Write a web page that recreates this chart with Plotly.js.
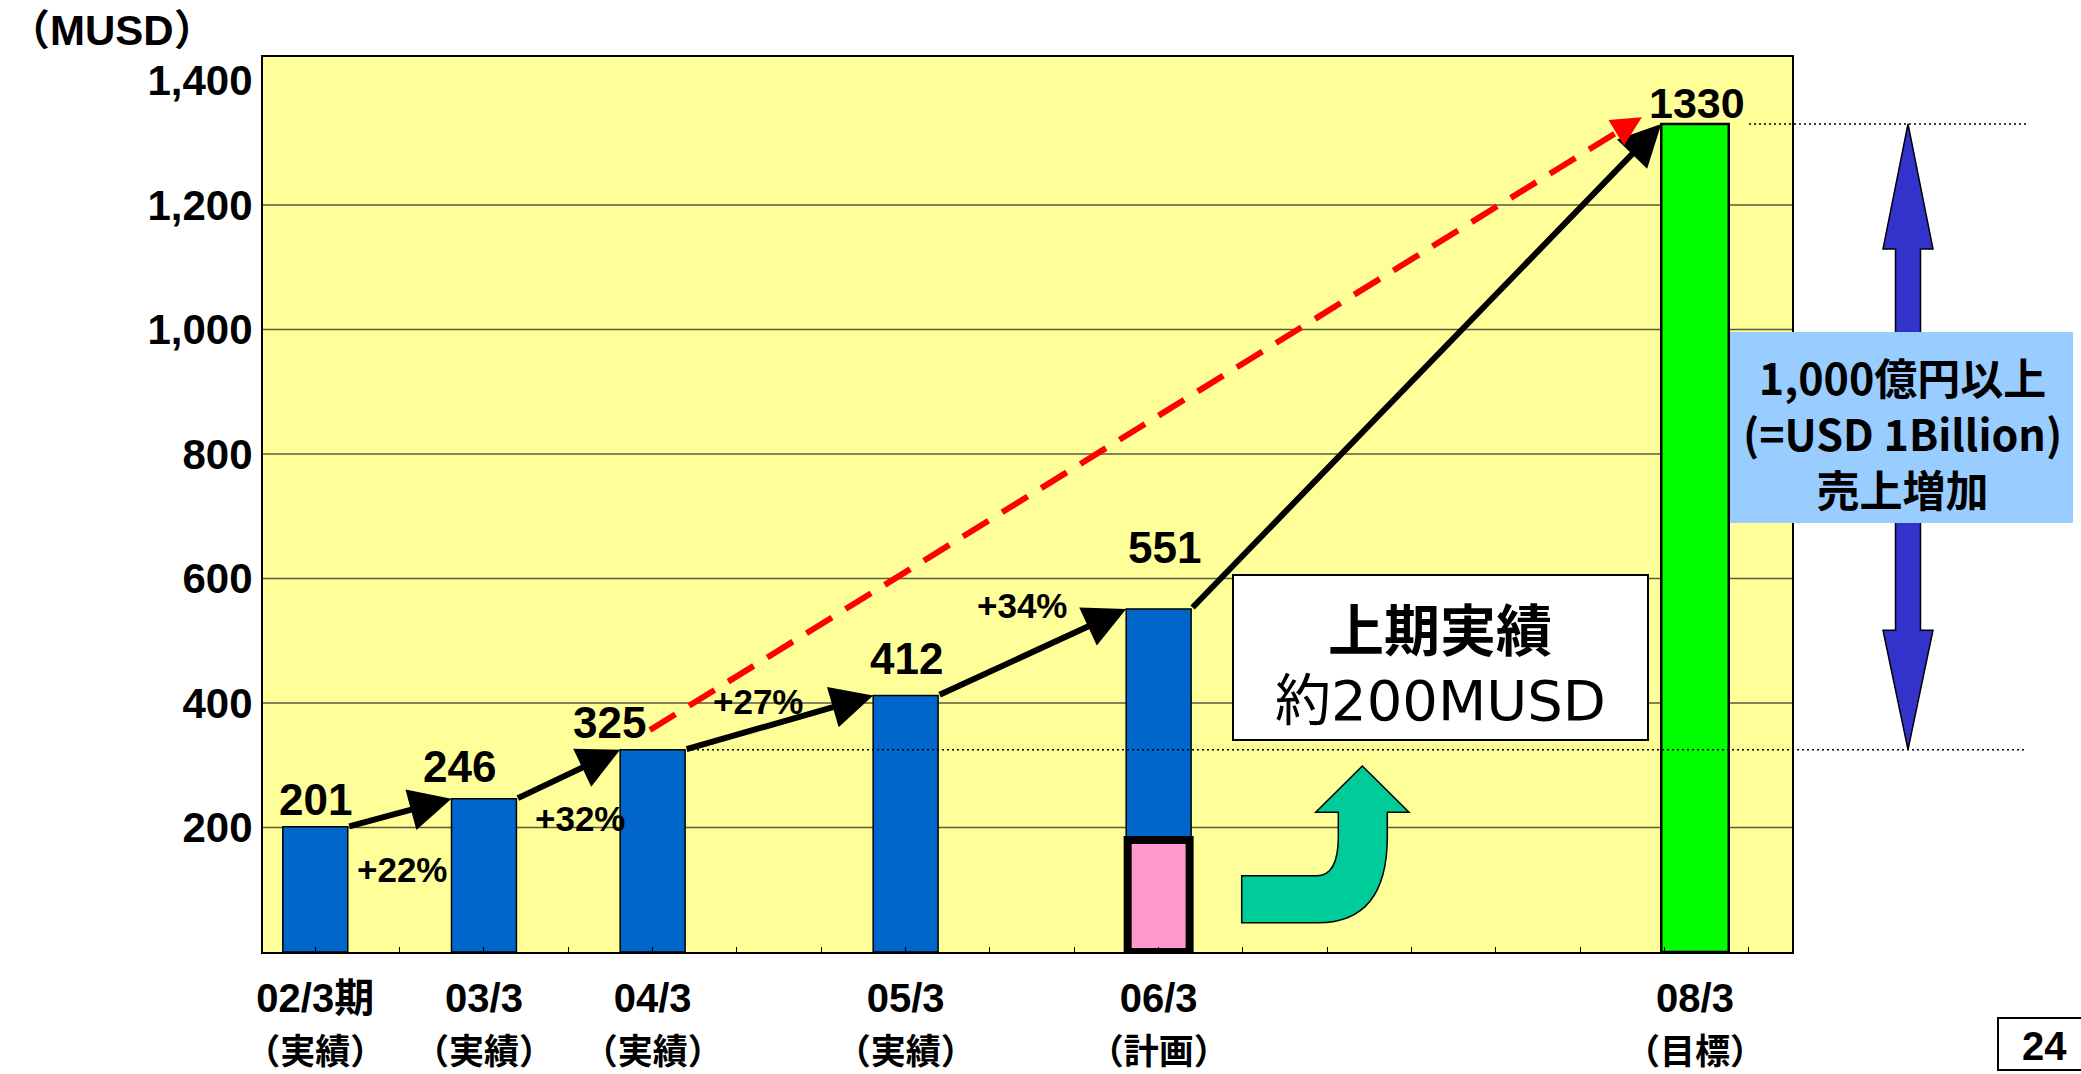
<!DOCTYPE html>
<html><head><meta charset="utf-8">
<script src="https://cdn.plot.ly/plotly-3.0.1.min.js"></script>
<style>html,body{margin:0;padding:0;background:#fff;overflow:hidden}#chart{width:2081px;height:1074px}</style>
</head><body><div id="chart"></div>
<script>
// ---------- data ----------
const periods  = ['02/3期', '03/3', '04/3', '05/3', '06/3', '08/3'];
const phase    = ['（実績）', '（実績）', '（実績）', '（実績）', '（計画）', '（目標）'];
const sales    = [201, 246, 325, 412, 551, 1330];          // MUSD
const axisPos  = [0, 2, 4, 7, 10, 16.36];                  // position of each period on the time axis
const firstHalf = [180];                                   // 06/3 上期実績 (約200MUSD)
const growth   = ['+22%', '+32%', '+27%', '+34%'];
const yTicks   = [200, 400, 600, 800, 1000, 1200, 1400];
const gridVals = [200, 400, 600, 800, 1000, 1200];

// ---------- layout geometry ----------
const W = 2081, H = 1074;
const M = {l: 263, r: 289, t: 57, b: 122};
const PW = W - M.l - M.r, PH = H - M.t - M.b;
const px = x => (x - M.l) / PW;          // pixel -> paper x
const py = y => (H - M.b - y) / PH;      // pixel -> paper y
const P = (x, y) => px(x).toFixed(5) + ',' + py(y).toFixed(5);

const SANS = "'Liberation Sans',Arial,'Noto Sans CJK JP',sans-serif";
const CJK = "'Noto Sans CJK JP','Noto Sans CJK SC',sans-serif";

const barW = [0.77, 0.77, 0.77, 0.77, 0.77, 0.8];
const hw = barW.map(w => w / 2);

const traces = [
  {
    type: 'bar', x: axisPos, y: sales, width: barW,
    marker: {color: ['#0066CC', '#0066CC', '#0066CC', '#0066CC', '#0066CC', '#00FF00'],
             line: {color: '#000', width: [1.5, 1.5, 1.5, 1.5, 1.5, 2.5]}},
    hoverinfo: 'skip'
  },
  {
    type: 'bar', x: [axisPos[4]], y: firstHalf, width: 0.735,
    marker: {color: '#FF99CC', line: {color: '#000', width: 8}},
    hoverinfo: 'skip'
  }
];

// ---------- annotations ----------
const ann = [];
const labelShift = [[0, 27], [-24, 32], [-43, 27], [1, 37], [6, 61], [2, 21]];
sales.forEach((v, i) => {
  ann.push({
    xref: 'x', yref: 'y', x: axisPos[i], y: v, text: String(v), showarrow: false,
    xanchor: 'center', yanchor: 'middle', xshift: labelShift[i][0], yshift: labelShift[i][1],
    font: {family: SANS, size: i === 5 ? 43 : 44, color: '#000', weight: 'bold'}
  });
});
// growth labels
const growthAt = [[1.03, 132], [3.15, 215], [5.25, 402], [8.38, 556]];
growth.forEach((g, i) => {
  ann.push({xref: 'x', yref: 'y', x: growthAt[i][0], y: growthAt[i][1], text: g, showarrow: false,
            xanchor: 'center', yanchor: 'middle',
            font: {family: SANS, size: 35, color: '#000', weight: 'bold'}});
});
// black growth arrows between bar tops
for (let i = 0; i < sales.length - 1; i++) {
  ann.push({
    xref: 'x', yref: 'y', axref: 'x', ayref: 'y',
    x: axisPos[i + 1] - hw[i + 1], y: sales[i + 1],
    ax: axisPos[i] + hw[i], ay: sales[i],
    text: '', showarrow: true, arrowhead: 2, arrowsize: 1.4, arrowwidth: 6,
    arrowcolor: '#000', standoff: 0
  });
}
// red dashed arrow head
ann.push({xref: 'x', yref: 'y', axref: 'x', ayref: 'y', x: 15.73, y: 1341, ax: 15.45, ay: 1318,
          text: '', showarrow: true, arrowhead: 2, arrowsize: 1.0, arrowwidth: 6,
          arrowcolor: '#FF0000', standoff: 0});
// unit label
ann.push({xref: 'paper', yref: 'paper', x: px(6), y: py(30), xanchor: 'left', yanchor: 'middle',
          text: '（MUSD）', showarrow: false, font: {family: SANS, size: 42, color: '#000', weight: 'bold'}});
// white box text
ann.push({xref: 'paper', yref: 'paper', x: px(1440), y: py(626), xanchor: 'center', yanchor: 'middle',
          text: '上期実績', showarrow: false,
          font: {family: CJK, size: 56, color: '#000', weight: 'bold'}});
ann.push({xref: 'paper', yref: 'paper', x: px(1440), y: py(700), xanchor: 'center', yanchor: 'middle',
          text: '約200MUSD', showarrow: false,
          font: {family: "'DejaVu Sans','Noto Sans CJK JP',sans-serif", size: 56, color: '#000'}});
// blue box text
ann.push({xref: 'paper', yref: 'paper', x: px(1902), y: py(432), xanchor: 'center', yanchor: 'middle',
          text: '1,000億円以上<br>(=USD 1Billion)<br>売上増加', showarrow: false,
          font: {family: CJK, size: 43, color: '#000', weight: 'bold'}});
// page number
ann.push({xref: 'paper', yref: 'paper', x: px(2044), y: py(1046), xanchor: 'center', yanchor: 'middle',
          text: '24', showarrow: false,
          font: {family: SANS, size: 40, color: '#000', weight: 'bold'}});

// ---------- shapes ----------
const shapes = [];
gridVals.forEach(v => shapes.push({type: 'line', xref: 'paper', yref: 'y', x0: 0, x1: 1, y0: v, y1: v,
  line: {color: '#5a5a40', width: 1.5}, layer: 'below'}));
// dotted reference lines at 04/3 and 08/3 levels
shapes.push({type: 'line', xref: 'paper', yref: 'y', x0: px(687), x1: px(2026), y0: sales[2], y1: sales[2],
  line: {color: '#000', width: 1.5, dash: '2px,3px'}});
shapes.push({type: 'line', xref: 'paper', yref: 'y', x0: px(1749), x1: px(2028), y0: sales[5], y1: sales[5],
  line: {color: '#000', width: 1.5, dash: '2px,3px'}});
// red dashed trend line
shapes.push({type: 'line', xref: 'x', yref: 'y', x0: 3.968, y0: 356.6, x1: 15.45, y1: 1318,
  line: {color: '#FF0000', width: 6, dash: '30px,16px'}});
// blue double arrow between 325 and 1330
(function () {
  const cx = px(1908), hs = 12.5 / PW, hh = 25 / PW;
  const top = sales[5], bot = sales[2], topB = 1129, botB = 517;
  const path = `M${cx - hs},${topB} L${cx - hh},${topB} L${cx},${top} L${cx + hh},${topB} L${cx + hs},${topB} ` +
               `L${cx + hs},${botB} L${cx + hh},${botB} L${cx},${bot} L${cx - hh},${botB} L${cx - hs},${botB} Z`;
  shapes.push({type: 'path', xref: 'paper', yref: 'y', path: path, fillcolor: '#3333CC',
               line: {color: '#000', width: 1.5}});
})();
// blue info box
shapes.push({type: 'rect', xref: 'paper', yref: 'paper', x0: px(1730), x1: px(2073), y0: py(332), y1: py(523),
  fillcolor: '#99CCFF', line: {width: 0}});
// white box
shapes.push({type: 'rect', xref: 'paper', yref: 'paper', x0: px(1233), x1: px(1648), y0: py(575), y1: py(740),
  fillcolor: '#FFFFFF', line: {color: '#000', width: 2}});
// teal curved arrow
shapes.push({type: 'path', xref: 'paper', yref: 'paper',
  path: `M${P(1241.7, 875.7)} L${P(1316.7, 875.7)} Q${P(1338.3, 875.7)} ${P(1338.3, 836.7)} L${P(1338.3, 812.3)} ` +
        `L${P(1315.7, 812.3)} L${P(1362.3, 766)} L${P(1409, 812.3)} L${P(1387.3, 812.3)} L${P(1387.3, 836.7)} ` +
        `Q${P(1387.3, 922.7)} ${P(1318, 922.7)} L${P(1241.7, 922.7)} Z`,
  fillcolor: '#00CC99', line: {color: '#000', width: 1.5}});
// page number box
shapes.push({type: 'rect', xref: 'paper', yref: 'paper', x0: px(1998), x1: px(2095), y0: py(1018), y1: py(1070),
  fillcolor: 'rgba(0,0,0,0)', line: {color: '#000', width: 2}});

const layout = {
  width: W, height: H, margin: M, paper_bgcolor: '#FFFFFF', plot_bgcolor: '#FFFF99',
  showlegend: false, barmode: 'overlay',
  xaxis: {
    range: [-0.62, 17.51], tickmode: 'array', tickvals: axisPos,
    ticktext: periods.map((p, i) => p + '<br><span style="font-size:35px">' + phase[i] + '</span>'),
    ticks: '', showgrid: false, zeroline: false, ticklabelstandoff: 10,
    showline: true, linecolor: '#000', linewidth: 2, mirror: true,
    tickfont: {family: SANS, size: 40, color: '#000', weight: 'bold'},
    minor: {ticks: 'inside', ticklen: 5, tickwidth: 1, tickcolor: '#000', dtick: 1, tick0: 0, showgrid: false}
  },
  yaxis: {
    range: [0, 1437.6], tickmode: 'array', tickvals: yTicks, tickformat: ',d',
    ticks: '', showgrid: false, zeroline: false,
    showline: true, linecolor: '#000', linewidth: 2, mirror: true,
    tickfont: {family: SANS, size: 42, color: '#000', weight: 'bold'}
  },
  annotations: ann, shapes: shapes
};

Plotly.newPlot('chart', traces, layout, {staticPlot: true, displayModeBar: false});
</script>
</body></html>
